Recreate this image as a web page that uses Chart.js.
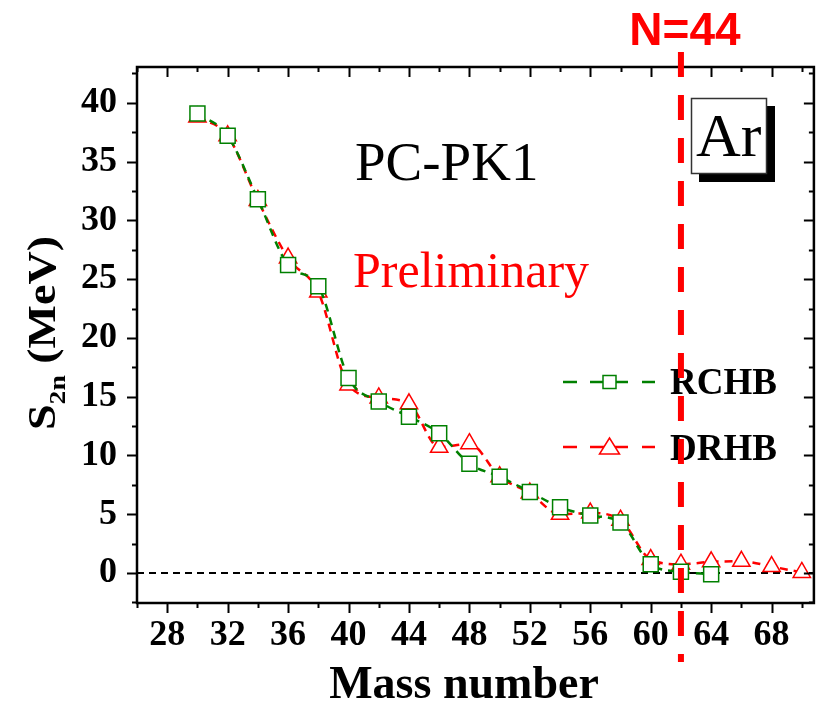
<!DOCTYPE html>
<html lang="en">
<head>
<meta charset="UTF-8">
<title>S2n Ar PC-PK1</title>
<script src="https://cdn.jsdelivr.net/npm/chart.js"></script>
<style>
  body { margin: 0; background: #fff; }
  #wrap { width: 826px; height: 704px; }
</style>
</head>
<body>
<div id="wrap"><canvas id="chart" width="826" height="704"></canvas></div>
<script>
// data
var massRCHB = [30, 32, 34, 36, 38, 40, 42, 44, 46, 48, 50, 52, 54, 56, 58, 60, 62, 64];
var s2nRCHB = [39.1, 37.2, 31.8, 26.2, 24.4, 16.6, 14.6, 13.3, 11.9, 9.3, 8.2, 6.9, 5.6, 4.9, 4.3, 0.75, 0.1, -0.1];
var massDRHB = [30, 32, 34, 36, 38, 40, 42, 44, 46, 48, 50, 52, 54, 56, 58, 60, 62, 64, 66, 68, 70];
var s2nDRHB = [38.8, 37.2, 31.7, 26.8, 23.9, 16.0, 14.9, 14.4, 10.7, 11.0, 8.2, 6.8, 5.0, 5.1, 4.5, 1.15, 0.75, 0.95, 1.0, 0.55, 0.05];

var xTickLabels = [28, 32, 36, 40, 44, 48, 52, 56, 60, 64, 68];
var yTickLabels = [0, 5, 10, 15, 20, 25, 30, 35, 40];
var shellMass = 62;   // N=44 line

var GREEN = 'rgb(0,128,0)';
var RED = '#ff0000';
var SERIF = '"Liberation Serif", "Times New Roman", serif';

function pts(xs, ys) {
  return xs.map(function (x, i) { return { x: x, y: ys[i] }; });
}

function isLabel(list, v) {
  for (var i = 0; i < list.length; i++) {
    if (Math.abs(list[i] - v) < 1e-9) return true;
  }
  return false;
}

// frame, ticks, annotations and legend
var decor = {
  id: 'decor',
  beforeDatasetsDraw: function (chart) {
    var ctx = chart.ctx, a = chart.chartArea, ys = chart.scales.y;
    var y0 = ys.getPixelForValue(0);
    ctx.save();
    ctx.strokeStyle = '#000';
    ctx.lineWidth = 2;
    ctx.setLineDash([7, 5]);
    ctx.beginPath();
    ctx.moveTo(a.left, y0);
    ctx.lineTo(a.right, y0);
    ctx.stroke();
    ctx.restore();
  },
  afterDraw: function (chart) {
    var ctx = chart.ctx, a = chart.chartArea;
    var xs = chart.scales.x, ys = chart.scales.y;
    ctx.save();

    // ticks, bottom/left outward, top/right inward
    ctx.strokeStyle = '#000';
    ctx.lineWidth = 2;
    xs.ticks.forEach(function (t) {
      var px = Math.round(xs.getPixelForValue(t.value)) + 0.5;
      var len = isLabel(xTickLabels, t.value) ? 10 : 5;
      ctx.beginPath();
      ctx.moveTo(px, a.bottom); ctx.lineTo(px, a.bottom + len);
      ctx.moveTo(px, a.top); ctx.lineTo(px, a.top + len);
      ctx.stroke();
    });
    ys.ticks.forEach(function (t) {
      var py = Math.round(ys.getPixelForValue(t.value)) + 0.5;
      var len = isLabel(yTickLabels, t.value) ? 10 : 5;
      ctx.beginPath();
      ctx.moveTo(a.left, py); ctx.lineTo(a.left - len, py);
      ctx.moveTo(a.right, py); ctx.lineTo(a.right - len, py);
      ctx.stroke();
    });

    // frame
    ctx.lineWidth = 2.5;
    ctx.strokeRect(a.left, a.top, a.right - a.left, a.bottom - a.top);

    // PC-PK1 / Preliminary
    ctx.textAlign = 'left';
    ctx.textBaseline = 'alphabetic';
    ctx.fillStyle = '#000';
    ctx.font = '55px ' + SERIF;
    ctx.fillText('PC-PK1', 355, 180);
    ctx.fillStyle = RED;
    ctx.font = '50px ' + SERIF;
    ctx.fillText('Preliminary', 353, 287);

    // Ar box with shadow
    ctx.fillStyle = '#000';
    ctx.fillRect(699, 106, 76, 76);
    ctx.fillStyle = '#fff';
    ctx.fillRect(691, 98, 76, 76);
    ctx.strokeStyle = '#333';
    ctx.lineWidth = 1.5;
    ctx.strokeRect(691.5, 98.5, 75, 75);
    ctx.fillStyle = '#000';
    ctx.font = '62px ' + SERIF;
    ctx.fillText('Ar', 696, 156);

    // legend
    drawLegendRow(ctx, 382, 394, GREEN, 'rect', 'RCHB');
    drawLegendRow(ctx, 447, 460, RED, 'triangle', 'DRHB');

    // N=44 line
    var px = xs.getPixelForValue(shellMass);
    ctx.strokeStyle = RED;
    ctx.lineWidth = 6;
    ctx.setLineDash([25, 18]);
    ctx.beginPath();
    ctx.moveTo(px, 52);
    ctx.lineTo(px, 662);
    ctx.stroke();
    ctx.setLineDash([]);
    ctx.fillStyle = RED;
    ctx.textAlign = 'center';
    ctx.font = 'bold 46px "Liberation Sans", Arial, sans-serif';
    ctx.fillText('N=44', px + 4, 45);

    // x title
    ctx.fillStyle = '#000';
    ctx.font = 'bold 46px ' + SERIF;
    ctx.fillText('Mass number', 464, 698);

    // y title S_2n (MeV)
    ctx.save();
    ctx.translate(55, 333);
    ctx.rotate(-Math.PI / 2);
    ctx.scale(1.15, 1);
    ctx.textAlign = 'left';
    var big = 'bold 40px ' + SERIF, small = 'bold 24px ' + SERIF;
    ctx.font = big;
    var wS = ctx.measureText('S').width;
    var wRest = ctx.measureText(' (MeV)').width;
    ctx.font = small;
    var wSub = ctx.measureText('2n').width;
    var x0 = -(wS + wSub + wRest) / 2;
    ctx.font = big;
    ctx.fillText('S', x0, 0);
    ctx.font = small;
    ctx.fillText('2n', x0 + wS, 10);
    ctx.font = big;
    ctx.fillText(' (MeV)', x0 + wS + wSub, 0);
    ctx.restore();

    ctx.restore();
  }
};

function drawLegendRow(ctx, y, textY, color, marker, label) {
  ctx.save();
  ctx.strokeStyle = color;
  ctx.lineWidth = 2.5;
  ctx.beginPath();
  ctx.moveTo(563, y); ctx.lineTo(577, y);
  ctx.moveTo(590, y); ctx.lineTo(628, y);
  ctx.moveTo(642, y); ctx.lineTo(655, y);
  ctx.stroke();
  ctx.fillStyle = '#fff';
  ctx.lineWidth = 1.5;
  ctx.beginPath();
  if (marker === 'rect') {
    ctx.rect(603, y - 6.5, 13, 13);
  } else {
    ctx.moveTo(609.5, y - 9);
    ctx.lineTo(619.5, y + 7);
    ctx.lineTo(599.5, y + 7);
    ctx.closePath();
  }
  ctx.fill();
  ctx.stroke();
  ctx.fillStyle = '#000';
  ctx.font = 'bold 37px ' + SERIF;
  ctx.textAlign = 'left';
  ctx.fillText(label, 670, textY);
  ctx.restore();
}

var tickFont = { family: SERIF, size: 36, weight: 'bold' };

new Chart(document.getElementById('chart').getContext('2d'), {
  type: 'line',
  data: {
    datasets: [{
      label: 'RCHB',
      data: pts(massRCHB, s2nRCHB),
      borderColor: GREEN,
      borderWidth: 2.5,
      borderDash: [8, 6],
      cubicInterpolationMode: 'monotone',
      pointStyle: 'rect',
      pointRadius: 10.6,
      pointBorderWidth: 1.5,
      pointBorderColor: GREEN,
      pointBackgroundColor: '#fff',
      fill: false
    }, {
      label: 'DRHB',
      data: pts(massDRHB, s2nDRHB),
      borderColor: RED,
      borderWidth: 2.5,
      borderDash: [8, 6],
      cubicInterpolationMode: 'monotone',
      pointStyle: 'triangle',
      pointRadius: 10,
      pointBorderWidth: 1.5,
      pointBorderColor: RED,
      pointBackgroundColor: '#fff',
      fill: false
    }]
  },
  options: {
    responsive: false,
    animation: false,
    devicePixelRatio: 1,
    layout: { padding: { left: 0, top: 67, right: 7, bottom: 0 } },
    plugins: { legend: { display: false }, tooltip: { enabled: false } },
    scales: {
      x: {
        type: 'linear',
        min: 26,
        max: 70.8,
        afterFit: function (s) { s.height = 101; },
        grid: { display: false, drawTicks: false },
        border: { display: false },
        ticks: {
          stepSize: 2,
          includeBounds: false,
          autoSkip: false,
          maxRotation: 0,
          padding: 11,
          color: '#000',
          font: tickFont,
          callback: function (v) { return isLabel(xTickLabels, v) ? String(v) : ''; }
        }
      },
      y: {
        type: 'linear',
        min: -2.55,
        max: 43.05,
        afterFit: function (s) { s.width = 137; },
        grid: { display: false, drawTicks: false },
        border: { display: false },
        ticks: {
          stepSize: 2.5,
          includeBounds: false,
          autoSkip: false,
          padding: 20,
          color: '#000',
          font: tickFont,
          callback: function (v) { return isLabel(yTickLabels, v) ? String(v) : ''; }
        }
      }
    }
  },
  plugins: [decor]
});
</script>
</body>
</html>
